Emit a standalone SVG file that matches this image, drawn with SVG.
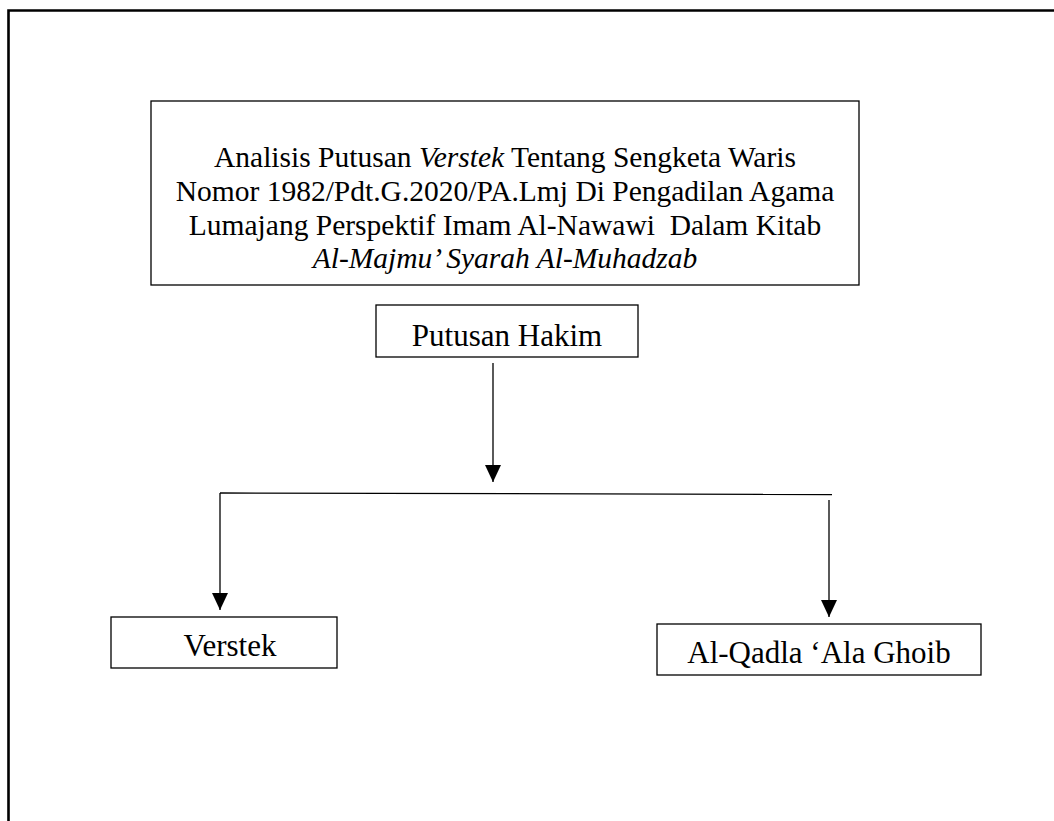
<svg xmlns="http://www.w3.org/2000/svg" width="1054" height="821" viewBox="0 0 1054 821">
  <style>
    .box { fill: #ffffff; stroke: #000000; stroke-width: 1.3; }
    .lbl { font-family: "Liberation Serif", "Times New Roman", serif; fill: #000000; text-anchor: middle; }
    .conn { stroke: #000000; stroke-width: 1.3; fill: none; }
  </style>
  <defs>
    <marker id="arrow" markerUnits="userSpaceOnUse" markerWidth="18" markerHeight="16" refX="17" refY="8" orient="auto">
      <path d="M0,0 L17,8 L0,16 Z" fill="#000000"/>
    </marker>
  </defs>
  <rect width="1054" height="821" fill="#ffffff"/>
  <g id="frame">
    <path d="M8.5,821 L8.5,10.5 L1054,10.5" fill="none" stroke="#000000" stroke-width="2.6"/>
  </g>
  <g id="node-title">
    <rect class="box" x="151" y="101" width="708" height="184"/>
    <text class="lbl" font-size="29.5" x="505" y="167">Analisis Putusan <tspan font-style="italic">Verstek</tspan> Tentang Sengketa Waris</text>
    <text class="lbl" font-size="29.5" x="505" y="201">Nomor 1982/Pdt.G.2020/PA.Lmj Di Pengadilan Agama</text>
    <text class="lbl" font-size="29.5" x="505" y="235" xml:space="preserve">Lumajang Perspektif Imam Al-Nawawi  Dalam Kitab</text>
    <text class="lbl" font-size="29.5" x="505" y="268" font-style="italic">Al-Majmu’ Syarah Al-Muhadzab</text>
  </g>
  <g id="node-putusan">
    <rect class="box" x="376" y="305" width="262" height="52"/>
    <text class="lbl" font-size="31" x="507" y="346">Putusan Hakim</text>
  </g>
  <g id="node-verstek">
    <rect class="box" x="111" y="617" width="226" height="51"/>
    <text class="lbl" font-size="31" x="230" y="656">Verstek</text>
  </g>
  <g id="node-qadla">
    <rect class="box" x="657" y="624" width="324" height="51"/>
    <text class="lbl" font-size="31" x="819" y="663">Al-Qadla ‘Ala Ghoib</text>
  </g>
  <g id="connectors">
    <line class="conn" x1="493" y1="363" x2="493" y2="482" marker-end="url(#arrow)"/>
    <line class="conn" x1="220" y1="493" x2="832" y2="494.5"/>
    <line class="conn" x1="220" y1="493" x2="220" y2="610" marker-end="url(#arrow)"/>
    <line class="conn" x1="829" y1="500" x2="829" y2="617" marker-end="url(#arrow)"/>
  </g>
</svg>
